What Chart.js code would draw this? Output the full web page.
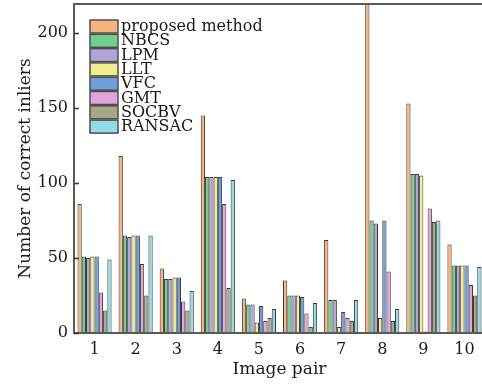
<!DOCTYPE html>
<html>
<head>
<meta charset="utf-8">
<script src="https://cdn.jsdelivr.net/npm/chart.js@4"></script>
<style>
html, body { margin: 0; padding: 0; background: #fff; overflow: hidden; }
#wrap { width: 486px; height: 386px; position: relative; }
</style>
</head>
<body>
<div id="wrap"><canvas id="inliersChart"></canvas></div>
<script>
const imagePairs = ['1', '2', '3', '4', '5', '6', '7', '8', '9', '10'];
const proposed = [86, 118, 43, 145, 23, 35, 62, 220, 153, 59];
const nbcs = [51, 65, 36, 104, 19, 25, 22, 75, 106, 45];
const lpm = [50, 64, 36, 104, 19, 25, 22, 73, 106, 45];
const llt = [51, 65, 37, 104, 7, 25, 4, 10, 105, 45];
const vfc = [51, 65, 37, 104, 18, 24, 14, 75, 1, 45];
const gmt = [27, 46, 21, 86, 8, 13, 10, 41, 83, 32];
const socbv = [15, 25, 15, 30, 10, 4, 8, 8, 74, 25];
const ransac = [49, 65, 28, 102, 16, 20, 22, 16, 75, 44];
const yTicks = [0, 50, 100, 150, 200];

const serif = '"DejaVu Serif", serif';

function series(label, data, color) {
    return {
        label: label,
        data: data,
        backgroundColor: color,
        borderColor: '#3c3c3c',
        borderWidth: 1,
        borderSkipped: 'bottom',
        categoryPercentage: 0.83,
        barPercentage: 1.0
    };
}

// frame round the plot + short inward ticks on the y axis
const framePlugin = {
    id: 'frame',
    afterDatasetsDraw(chart) {
        const ctx = chart.ctx;
        const a = chart.chartArea;
        ctx.save();
        ctx.strokeStyle = '#5a5a5a';
        ctx.lineWidth = 2;
        ctx.strokeRect(a.left, a.top, a.right - a.left, a.bottom - a.top);
        ctx.lineWidth = 1.5;
        ctx.strokeStyle = '#333';
        const y = chart.scales.y;
        yTicks.forEach(v => {
            const py = Math.round(y.getPixelForValue(v)) + 0.5;
            ctx.beginPath();
            ctx.moveTo(a.left, py);
            ctx.lineTo(a.left + 5, py);
            ctx.stroke();
        });
        ctx.restore();
    }
};

// legend box in the upper left corner of the plot
const legendPlugin = {
    id: 'boxLegend',
    afterDraw(chart) {
        const ctx = chart.ctx;
        const a = chart.chartArea;
        const x = a.left + 16;
        let y = a.top + 16;
        ctx.save();
        ctx.font = '16px ' + serif;
        ctx.textBaseline = 'middle';
        chart.data.datasets.forEach(ds => {
            ctx.fillStyle = ds.backgroundColor;
            ctx.fillRect(x, y, 28, 13);
            ctx.strokeStyle = '#4d4d4d';
            ctx.lineWidth = 1.5;
            ctx.strokeRect(x, y, 28, 13);
            ctx.fillStyle = '#1a1a1a';
            ctx.fillText(ds.label, x + 31, y + 7);
            y += 14.3;
        });
        ctx.restore();
    }
};

const ctx = document.getElementById('inliersChart');
new Chart(ctx, {
    type: 'bar',
    data: {
        labels: imagePairs,
        datasets: [
            series('proposed method', proposed, '#f9b47c'),
            series('NBCS', nbcs, '#6fcf8c'),
            series('LPM', lpm, '#b3a3d9'),
            series('LLT', llt, '#f0ee8f'),
            series('VFC', vfc, '#6e9edc'),
            series('GMT', gmt, '#e2a5da'),
            series('SOCBV', socbv, '#a4a98a'),
            series('RANSAC', ransac, '#93dce3')
        ]
    },
    options: {
        responsive: true,
        maintainAspectRatio: false,
        animation: false,
        layout: { padding: { top: 4, right: 1, left: 0, bottom: 0 } },
        plugins: {
            legend: { display: false },
            tooltip: { enabled: false }
        },
        scales: {
            x: {
                grid: { display: false, drawTicks: false },
                border: { display: false },
                ticks: { color: '#1a1a1a', font: { family: serif, size: 16 }, padding: 7 },
                title: {
                    display: true,
                    text: 'Image pair',
                    color: '#1a1a1a',
                    font: { family: serif, size: 17 },
                    padding: { top: 0, bottom: 6 }
                },
                afterFit: s => {
                    s.height = 53;
                    s.paddingLeft = 0;
                    s.paddingRight = 0;
                }
            },
            y: {
                min: 0,
                max: 219.3,
                grid: { display: false, drawTicks: false },
                border: { display: false },
                ticks: { color: '#1a1a1a', font: { family: serif, size: 16 }, padding: 6 },
                afterBuildTicks: s => { s.ticks = yTicks.map(v => ({ value: v })); },
                title: {
                    display: true,
                    text: 'Number of correct inliers',
                    color: '#1a1a1a',
                    font: { family: serif, size: 17 },
                    padding: { top: 15, bottom: 0 }
                },
                afterFit: s => {
                    s.width = 74;
                    s.paddingTop = 0;
                    s.paddingBottom = 0;
                }
            }
        }
    },
    plugins: [framePlugin, legendPlugin]
});
</script>
</body>
</html>
